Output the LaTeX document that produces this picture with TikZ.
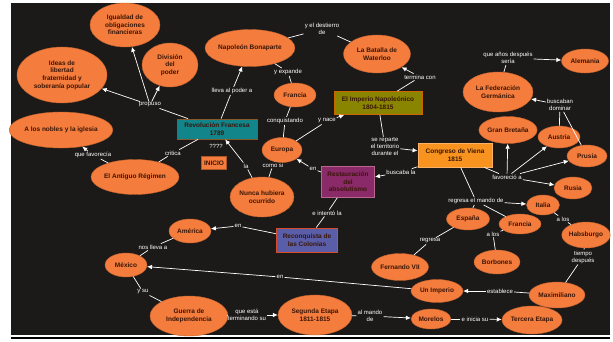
\documentclass[tikz,border=0pt]{standalone}
\usepackage{fontspec}
\setmainfont{Liberation Sans}
\usetikzlibrary{shapes, arrows.meta, positioning}
\definecolor{fondo}{HTML}{1C1A19}
\definecolor{naranja}{HTML}{F47C3C}
\definecolor{texto}{HTML}{3A1608}
\definecolor{verdeazul}{HTML}{12858A}
\definecolor{oliva}{HTML}{8A8500}
\definecolor{naranjaviva}{HTML}{F7931E}
\definecolor{magenta}{HTML}{8A2A68}
\definecolor{lila}{HTML}{5A5EA8}

\begin{document}
\begin{tikzpicture}[x=1pt, y=-1pt, font=\bfseries\fontsize{6.5}{7.6}\selectfont]
        % estilos de los conceptos y enlaces
        \tikzstyle{idea} = [ellipse, fill=naranja, draw=naranja!80!black, text=texto, align=center, inner sep=0pt]
        \tikzstyle{tema} = [rectangle, line width=0.8pt, text=texto, align=center, inner sep=0pt]
        \tikzstyle{enlace} = [text=white, font=\mdseries\fontsize{6}{7}\selectfont, align=center, inner sep=1pt]
        \tikzstyle{linea} = [white, line width=0.7pt]
        \tikzstyle{arrow} = [white, line width=0.7pt, -{Latex[length=5pt, width=4.5pt]}]

        % fondo
        \fill [white] (0,0) rectangle (613,341);
        \fill [fondo] (11,3) rectangle (610,335);
        \draw [black, line width=1.2pt] (11,338) -- (610,338);

        % Paso 1: la Revolución Francesa
        \node (revolucion) [tema, fill=verdeazul, draw=brown!70!black, minimum width=80, minimum height=20] at (217,129) {Revolución Francesa\\1789};
        \node (inicio) [tema, fill=naranja, draw=naranja!70!black, minimum width=25, minimum height=13] at (214,163) {INICIO};
        \node (igualdad) [idea, minimum width=70, minimum height=44] at (125,25) {Igualdad de\\obligaciones\\financieras};
        \node (ideas) [idea, minimum width=90, minimum height=56] at (62,75) {Ideas de\\libertad\\fraternidad y\\soberanía popular};
        \node (division) [idea, minimum width=56, minimum height=44] at (170,65) {División\\del\\poder};
        \node (nobles) [idea, minimum width=98, minimum height=36] at (61,130) {A los nobles y la iglesia};
        \node (antiguo) [idea, minimum width=88, minimum height=35] at (135,177) {El Antiguo Régimen};
        \node (nunca) [idea, minimum width=60, minimum height=40] at (262,197) {Nunca hubiera\\ocurrido};

        % Paso 2: Napoleón
        \node (napoleon) [idea, minimum width=84, minimum height=37] at (250,48) {Napoleón Bonaparte};
        \node (waterloo) [idea, minimum width=67, minimum height=38] at (377,54) {La Batalla de\\Waterloo};
        \node (francia) [idea, minimum width=42, minimum height=24] at (295,95) {Francia};
        \node (europa) [idea, minimum width=40, minimum height=25] at (282,150) {Europa};
        \node (imperio) [tema, fill=oliva, draw=orange!80!black, minimum width=88, minimum height=23] at (378,103) {El Imperio Napoleónico\\1804-1815};

        % Paso 3: Congreso de Viena y restauración
        \node (congreso) [tema, fill=naranjaviva, draw=orange!60, minimum width=74, minimum height=24] at (455,155) {Congreso de Viena\\1815};
        \node (restauracion) [tema, fill=magenta, draw=magenta!60!pink, minimum width=53, minimum height=31] at (348,182) {Restauración\\del\\absolutismo};
        \node (federacion) [idea, minimum width=70, minimum height=40] at (498,92) {La Federación\\Germánica};
        \node (alemania) [idea, minimum width=47, minimum height=24] at (585,61) {Alemania};
        \node (bretana) [idea, minimum width=56, minimum height=27] at (508,130) {Gran Bretaña};
        \node (austria) [idea, minimum width=42, minimum height=22] at (559,137) {Austria};
        \node (prusia) [idea, minimum width=40, minimum height=22] at (587,156) {Prusia};
        \node (rusia) [idea, minimum width=38, minimum height=22] at (573,188) {Rusia};
        \node (italia) [idea, minimum width=33, minimum height=20] at (543,205) {Italia};
        \node (espana) [idea, minimum width=43, minimum height=22] at (468,219) {España};
        \node (franciab) [idea, minimum width=42, minimum height=20] at (520,224) {Francia};
        \node (habsburgo) [idea, minimum width=48, minimum height=26] at (586,235) {Habsburgo};
        \node (borbones) [idea, minimum width=46, minimum height=24] at (497,262) {Borbones};
        \node (fernando) [idea, minimum width=57, minimum height=27] at (400,267) {Fernando VII};

        % Paso 4: México
        \node (reconquista) [tema, fill=lila, draw=brown!60!red, minimum width=61, minimum height=24] at (307,240) {Reconquista de\\las Colonias};
        \node (america) [idea, minimum width=42, minimum height=24] at (190,231) {América};
        \node (mexico) [idea, minimum width=42, minimum height=24] at (126,265) {México};
        \node (guerra) [idea, minimum width=78, minimum height=40] at (189,316) {Guerra de\\Independencia};
        \node (segunda) [idea, minimum width=74, minimum height=40] at (315,315) {Segunda Etapa\\1811-1815};
        \node (morelos) [idea, minimum width=40, minimum height=20] at (431,319) {Morelos};
        \node (tercera) [idea, minimum width=58, minimum height=28] at (532,320) {Tercera Etapa};
        \node (imperiomx) [idea, minimum width=52, minimum height=23] at (437,291) {Un Imperio};
        \node (maximiliano) [idea, minimum width=56, minimum height=26] at (557,295) {Maximiliano};

        % palabras de enlace
        \node (l_propuso) [enlace] at (150,105) {propuso};
        \node (l_inicio) [enlace] at (216,146) {????};
        \node (l_lleva) [enlace] at (232,91) {lleva al poder a};
        \node (l_destierro) [enlace] at (322,29) {y el destierro\\de};
        \node (l_expande) [enlace] at (288,72) {y expande};
        \node (l_conquista) [enlace] at (285,121) {conquistando};
        \node (l_nace) [enlace] at (327,121) {y nace};
        \node (l_termina) [enlace] at (420,77) {termina con};
        \node (l_reparte) [enlace] at (385,147) {se reparte\\el territorio\\durante el};
        \node (l_buscaba) [enlace] at (401,172) {buscaba la};
        \node (l_en1) [enlace] at (313,169) {en};
        \node (l_comosi) [enlace] at (273,165) {como si};
        \node (l_la) [enlace] at (246,166) {la};
        \node (l_critica) [enlace] at (173,153) {critica};
        \node (l_favorecia) [enlace] at (93,155) {que favorecía};
        \node (l_intento) [enlace] at (327,213) {e intentó la};
        \node (l_en2) [enlace] at (238,226) {en};
        \node (l_lleva2) [enlace] at (153,247) {nos lleva a};
        \node (l_ysu) [enlace] at (143,292) {y su};
        \node (l_en3) [enlace] at (280,277) {en};
        \node (l_terminando) [enlace] at (247,315) {que está\\terminando su};
        \node (l_mando) [enlace] at (370,316) {al mando\\de};
        \node (l_inicia) [enlace] at (475,319) {e inicia su};
        \node (l_establece) [enlace] at (500,291) {establece};
        \node (l_tiempo) [enlace] at (583,257) {tiempo\\después};
        \node (l_alos1) [enlace] at (563,219) {a los};
        \node (l_alos2) [enlace] at (493,234) {a los};
        \node (l_regresa) [enlace] at (430,241) {regresa};
        \node (l_regresamando) [enlace] at (476,201) {regresa el mando de};
        \node (l_favorecio) [enlace] at (507,177) {favoreció a};
        \node (l_buscaban) [enlace] at (560,105) {buscaban\\dominar};
        \node (l_sera) [enlace] at (508,58) {que años después\\sería};

        % flechas
        \draw [linea] (revolucion) -- (l_propuso);
        \draw [arrow] (l_propuso) -- (ideas);
        \draw [arrow] (l_propuso) -- (igualdad);
        \draw [arrow] (l_propuso) -- (division);
        \draw [linea] (revolucion) -- (l_lleva);
        \draw [arrow] (l_lleva) -- (napoleon);
        \draw [linea] (napoleon) -- (l_expande) -- (francia);
        \draw [linea] (napoleon) -- (l_destierro) -- (waterloo);
        \draw [linea] (francia) -- (l_conquista) -- (europa);
        \draw [linea] (europa) -- (l_nace);
        \draw [arrow] (l_nace) -- (imperio);
        \draw [linea] (imperio) -- (l_termina);
        \draw [arrow] (l_termina) -- (waterloo);
        \draw [linea] (imperio) -- (l_reparte);
        \draw [arrow] (l_reparte) -- (congreso);
        \draw [linea] (congreso) -- (l_buscaba);
        \draw [arrow] (l_buscaba) -- (restauracion);
        \draw [linea] (restauracion) -- (l_en1);
        \draw [arrow] (l_en1) -- (europa);
        \draw [linea] (europa) -- (l_comosi) -- (nunca);
        \draw [linea] (nunca) -- (l_la);
        \draw [arrow] (l_la) -- (revolucion);
        \draw [linea] (revolucion) -- (l_critica) -- (antiguo);
        \draw [linea] (antiguo) -- (l_favorecia);
        \draw [arrow] (l_favorecia) -- (nobles);
        \draw [linea] (restauracion) -- (l_intento) -- (reconquista);
        \draw [linea] (reconquista) -- (l_en2);
        \draw [arrow] (l_en2) -- (america);
        \draw [linea] (america) -- (l_lleva2) -- (mexico);
        \draw [linea] (mexico) -- (l_ysu) -- (guerra);
        \draw [linea] (guerra) -- (l_terminando);
        \draw [arrow] (l_terminando) -- (segunda);
        \draw [linea] (segunda) -- (l_mando);
        \draw [arrow] (l_mando) -- (morelos);
        \draw [linea] (morelos) -- (l_inicia);
        \draw [arrow] (l_inicia) -- (tercera);
        \draw [linea] (maximiliano) -- (l_establece);
        \draw [arrow] (l_establece) -- (imperiomx);
        \draw [linea] (imperiomx) -- (l_en3);
        \draw [arrow] (l_en3) -- (mexico);
        \draw [linea] (habsburgo) -- (l_tiempo) -- (maximiliano);
        \draw [linea] (italia) -- (l_alos1) -- (habsburgo);
        \draw [linea] (congreso) -- (l_regresamando);
        \draw [arrow] (l_regresamando) -- (italia);
        \draw [linea] (l_regresamando) -- (franciab);
        \draw [linea] (l_regresamando) -- (espana);
        \draw [linea] (espana) -- (l_regresa) -- (fernando);
        \draw [linea] (franciab) -- (l_alos2) -- (borbones);
        \draw [linea] (congreso) -- (l_favorecio);
        \draw [arrow] (l_favorecio) -- (bretana);
        \draw [arrow] (l_favorecio) -- (austria);
        \draw [arrow] (l_favorecio) -- (prusia);
        \draw [arrow] (l_favorecio) -- (rusia);
        \draw [linea] (austria) -- (l_buscaban);
        \draw [linea] (prusia) -- (l_buscaban);
        \draw [arrow] (l_buscaban) -- (federacion);
        \draw [linea] (federacion) -- (l_sera);
        \draw [arrow] (l_sera) -- (alemania);

    \end{tikzpicture}
\end{document}
